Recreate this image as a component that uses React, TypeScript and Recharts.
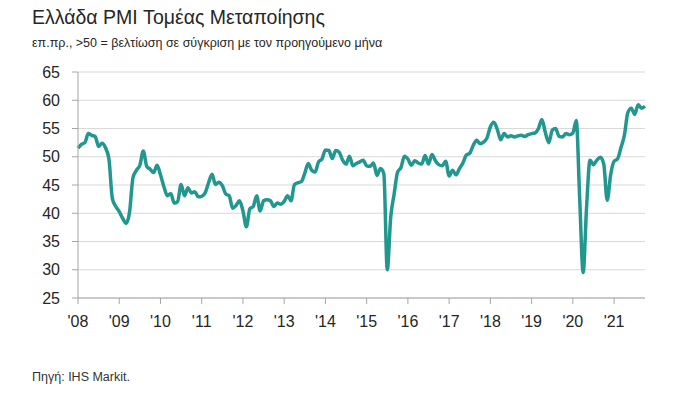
import { CartesianGrid, Line, LineChart, XAxis, YAxis } from 'recharts';

// Greek manufacturing PMI, monthly, Jan 2008 - Oct 2021
const pmi2008 = [51.5, 52.2, 52.5, 54.1, 53.8, 53.6, 51.8, 52.4, 51.6, 49.6, 42.6, 41.2];
const pmi2009 = [40.3, 39.1, 38.2, 40.2, 46.3, 47.6, 48.5, 51.0, 48.3, 47.8, 47.2, 48.5];
const pmi2010 = [46.8, 44.7, 43.1, 43.5, 41.8, 42.1, 45.1, 43.1, 44.5, 43.6, 43.8, 42.9];
const pmi2011 = [43.0, 43.6, 45.4, 46.9, 45.1, 45.5, 44.9, 43.4, 43.1, 40.9, 41.4, 42.2];
const pmi2012 = [40.4, 37.6, 40.8, 41.2, 43.1, 40.4, 42.2, 42.4, 42.2, 41.2, 41.8, 41.6];
const pmi2013 = [42.1, 43.1, 42.2, 45.1, 45.4, 45.6, 47.1, 48.8, 47.6, 47.3, 49.1, 49.6];
const pmi2014 = [51.2, 51.1, 49.7, 51.1, 50.8, 49.4, 48.7, 50.1, 48.4, 48.8, 49.1, 49.4];
const pmi2015 = [48.4, 48.3, 48.9, 46.7, 47.9, 47.0, 30.0, 39.3, 43.4, 47.3, 48.1, 50.1];
const pmi2016 = [49.6, 48.5, 49.3, 48.9, 48.7, 50.2, 48.7, 50.4, 49.3, 48.6, 48.4, 49.2];
const pmi2017 = [46.6, 47.6, 46.8, 47.9, 48.9, 50.3, 50.6, 52.0, 52.9, 52.3, 52.6, 53.3];
const pmi2018 = [55.3, 56.1, 54.9, 53.0, 54.1, 53.5, 53.7, 53.5, 53.7, 53.8, 53.6, 53.9];
const pmi2019 = [54.1, 54.2, 55.0, 56.6, 54.3, 52.5, 54.7, 55.0, 53.6, 53.5, 54.1, 53.9];
const pmi2020 = [54.2, 56.4, 42.5, 29.5, 41.1, 49.4, 48.6, 49.4, 49.9, 48.7, 42.3, 46.8];
const pmi2021 = [49.2, 49.6, 51.6, 53.8, 57.8, 58.6, 57.5, 59.2, 58.6, 58.9];

const yearLabels = ["'08", "'09", "'10", "'11", "'12", "'13", "'14", "'15", "'16", "'17", "'18", "'19", "'20", "'21"];
const yTicks = [25, 30, 35, 40, 45, 50, 55, 60, 65];

const values = [
  ...pmi2008, ...pmi2009, ...pmi2010, ...pmi2011, ...pmi2012, ...pmi2013, ...pmi2014,
  ...pmi2015, ...pmi2016, ...pmi2017, ...pmi2018, ...pmi2019, ...pmi2020, ...pmi2021,
];
const chartData = values.map((v, i) => ({ i, v }));
const xTicks = yearLabels.map((_, k) => k * 12);

const TEXT = '#262626';
const TEAL = '#22978f';

export default function App() {
  return (
    <div
      style={{
        position: 'absolute',
        left: 0,
        top: 0,
        width: 700,
        height: 398,
        background: '#fff',
        fontFamily: '"Liberation Sans", Arial, sans-serif',
        color: TEXT,
      }}
    >
      <div style={{ position: 'absolute', left: 32, top: 8, fontSize: 19.5, lineHeight: 1 }}>
        Ελλάδα PMI Τομέας Μεταποίησης
      </div>
      <div style={{ position: 'absolute', left: 32, top: 37, fontSize: 12.5, lineHeight: 1 }}>
        επ.πρ., &gt;50 = βελτίωση σε σύγκριση με τον προηγούμενο μήνα
      </div>
      <LineChart
        width={700}
        height={398}
        data={chartData}
        margin={{ top: 72, right: 55, bottom: 0, left: 0 }}
        style={{ position: 'absolute', left: 0, top: 0 }}
      >
        <CartesianGrid vertical={false} stroke="#d9d9d9" />
        <XAxis
          dataKey="i"
          type="number"
          domain={[0, 165]}
          ticks={xTicks}
          tickFormatter={(t: number) => yearLabels[Math.round(t / 12)]}
          height={100}
          stroke="#a6a6a6"
          tickSize={6}
          tickMargin={12}
          tick={{ fill: TEXT, fontSize: 16 }}
        />
        <YAxis
          domain={[25, 65]}
          ticks={yTicks}
          width={78}
          stroke="#a6a6a6"
          tickSize={6}
          tickMargin={12}
          tick={{ fill: TEXT, fontSize: 16 }}
        />
        <Line
          dataKey="v"
          type="monotone"
          stroke={TEAL}
          strokeWidth={3.5}
          dot={false}
          isAnimationActive={false}
        />
      </LineChart>
      <div
        style={{
          position: 'absolute',
          left: 32,
          top: 371,
          fontSize: 12.5,
          lineHeight: 1,
          fontFamily: '"Liberation Sans Narrow", "Liberation Sans", sans-serif',
          color: '#333',
        }}
      >
        Πηγή: IHS Markit.
      </div>
    </div>
  );
}
